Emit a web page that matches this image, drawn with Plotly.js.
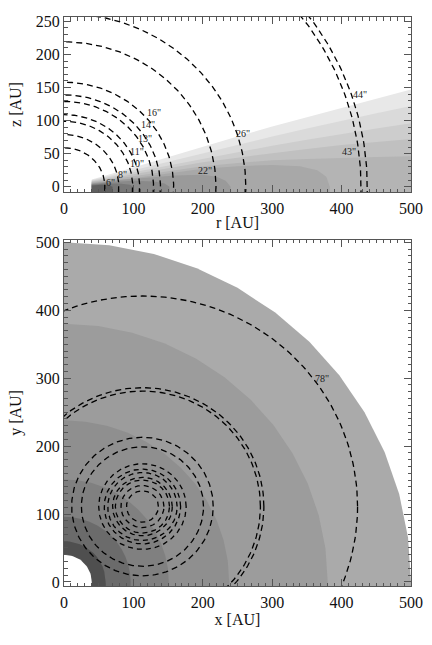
<!DOCTYPE html>
<html>
<head>
<meta charset="utf-8">
<script src="https://cdn.plot.ly/plotly-3.0.1.min.js"></script>
<style>
  html, body { margin: 0; padding: 0; background: #fff; }
  #target { width: 432px; height: 645px; }
</style>
</head>
<body>
<div id="target"></div>
<script>
(function() {
  // ---- top panel: r-z density contours (upper boundary of each filled level) ----
  var rOpen = [40, 100, 150, 200, 250, 300, 350, 400, 450, 500];
  var zLevel1 = [11, 29, 45, 60, 76, 91, 105, 120, 134, 147];
  var zLevel2 = [10, 25, 38, 51, 64, 76, 88, 100, 111, 122];
  var zLevel3 = [9, 22, 32, 43, 53, 62, 71, 80, 88, 96];
  var zLevel4 = [8, 19, 28, 37, 44, 51, 57, 63, 68, 72];
  var zLevel5 = [7, 16, 24, 31, 36, 40, 42, 44, 45, 46];
  var rLevel6 = [40, 100, 150, 200, 250, 300, 340, 365, 378, 383];
  var zLevel6 = [6, 13, 20, 27, 31, 33, 31, 25, 15, 0];
  var rLevel7 = [40, 80, 120, 160, 200, 220, 233, 240];
  var zLevel7 = [5, 10, 14, 17, 18, 15, 9, 0];
  var rLevel8 = [40, 70, 100, 130, 145, 152];
  var zLevel8 = [4, 7, 9, 8, 5, 0];
  var rLevel9 = [40, 60, 80, 95, 100];
  var zLevel9 = [3, 5, 5, 3, 0];
  var rLevel10 = [40, 55, 65, 70];
  var zLevel10 = [2, 3, 2, 0];
  var topGreys = ['#e8e8e8', '#dadada', '#cdcdcd', '#c0c0c0', '#b4b4b4',
                  '#a8a8a8', '#9a9a9a', '#8a8a8a', '#777777', '#5f5f5f'];

  // dashed arcs of constant angular separation (radius in AU) and their labels
  var arcRadius = [59, 79, 99, 109, 129, 139, 158, 219, 262, 428, 437];
  var arcLabels = ['6"', '8"', '10"', '11"', '13"', '14"', '16"', '22"', '26"', '43"', '44"'];
  var labelR = [67, 84, 105, 105, 117, 121, 129, 203, 258, 410, 427];
  var labelZ = [6, 18, 35, 53, 73, 94, 112, 25, 81, 53, 139];

  // ---- bottom panel: face-on x-y ----
  var ringRadius = [500, 380, 238, 151, 96, 60];
  var ringGreys = ['#aaaaaa', '#9c9c9c', '#8f8f8f', '#808080', '#6b6b6b', '#4f4f4f'];
  var holeRadius = 40;
  var circleCenter = [113, 111];
  var circleRadius = [23, 31, 39, 43, 50, 55, 63, 88, 102, 170, 175, 310];
  var bottomLabel = '78"';
  var bottomLabelXY = [372, 299];

  var traces = [];
  var serif = 'Liberation Serif';

  function openLevel(r, z, color) {
    var xs = [r[0]].concat(r, [r[r.length - 1]]);
    var ys = [-20].concat(z, [-20]);
    traces.push({x: xs, y: ys, xaxis: 'x', yaxis: 'y', type: 'scatter', mode: 'lines',
      fill: 'toself', fillcolor: color, line: {width: 0}, hoverinfo: 'skip', showlegend: false});
  }
  openLevel(rOpen, zLevel1, topGreys[0]);
  openLevel(rOpen, zLevel2, topGreys[1]);
  openLevel(rOpen, zLevel3, topGreys[2]);
  openLevel(rOpen, zLevel4, topGreys[3]);
  openLevel(rOpen, zLevel5, topGreys[4]);
  openLevel(rLevel6, zLevel6, topGreys[5]);
  openLevel(rLevel7, zLevel7, topGreys[6]);
  openLevel(rLevel8, zLevel8, topGreys[7]);
  openLevel(rLevel9, zLevel9, topGreys[8]);
  openLevel(rLevel10, zLevel10, topGreys[9]);

  function circle(cx, cy, R, a0, a1, n) {
    var xs = [], ys = [];
    for (var i = 0; i <= n; i++) {
      var a = (a0 + (a1 - a0) * i / n) * Math.PI / 180;
      xs.push(cx + R * Math.cos(a));
      ys.push(cy + R * Math.sin(a));
    }
    return {x: xs, y: ys};
  }

  arcRadius.forEach(function(R) {
    var c = circle(0, 0, R, -6, 96, 120);
    traces.push({x: c.x, y: c.y, xaxis: 'x', yaxis: 'y', type: 'scatter', mode: 'lines',
      line: {color: '#000', width: 1.3, dash: '6px,4px'}, hoverinfo: 'skip', showlegend: false});
  });

  // bottom rings as 12-sided polygons
  ringRadius.forEach(function(R, k) {
    var c = circle(0, 0, R, 0, 90, 12);
    var xs = [0, R].concat(c.x, [0]);
    var ys = [-20, -20].concat(c.y, [-20]);
    traces.push({x: xs, y: ys, xaxis: 'x2', yaxis: 'y2', type: 'scatter', mode: 'lines',
      fill: 'toself', fillcolor: ringGreys[k], line: {width: 0}, hoverinfo: 'skip', showlegend: false});
  });
  var hole = circle(0, 0, holeRadius, 0, 90, 24);
  traces.push({x: [0, holeRadius].concat(hole.x, [0]), y: [-20, -20].concat(hole.y, [-20]),
    xaxis: 'x2', yaxis: 'y2', type: 'scatter', mode: 'lines',
    fill: 'toself', fillcolor: '#ffffff', line: {width: 0}, hoverinfo: 'skip', showlegend: false});

  circleRadius.forEach(function(R) {
    var c = circle(circleCenter[0], circleCenter[1], R, 0, 360, 240);
    traces.push({x: c.x, y: c.y, xaxis: 'x2', yaxis: 'y2', type: 'scatter', mode: 'lines',
      line: {color: '#000', width: 1.3, dash: R < 70 ? '5px,4px' : '6px,4px'},
      hoverinfo: 'skip', showlegend: false});
  });

  var annotations = arcLabels.map(function(t, i) {
    return {x: labelR[i], y: labelZ[i], xref: 'x', yref: 'y', text: t, showarrow: false,
      font: {family: serif, size: 10, color: '#222'}};
  });
  annotations.push({x: bottomLabelXY[0], y: bottomLabelXY[1], xref: 'x2', yref: 'y2',
    text: bottomLabel, showarrow: false, font: {family: serif, size: 10, color: '#222'}});

  function axis(extra) {
    var a = {
      ticks: 'inside', ticklen: 7, tickcolor: '#555', tickwidth: 1,
      minor: {ticks: 'inside', ticklen: 3.5, tickcolor: '#555', dtick: 10},
      showline: true, linecolor: '#555', linewidth: 1, mirror: 'ticks',
      showgrid: false, zeroline: false, fixedrange: true,
      tickfont: {family: serif, size: 16, color: '#111'}
    };
    for (var k in extra) a[k] = extra[k];
    return a;
  }

  var layout = {
    width: 432, height: 645,
    margin: {l: 64, r: 21, t: 17, b: 59},
    paper_bgcolor: '#fff', plot_bgcolor: '#fff',
    font: {family: serif, color: '#111'},
    xaxis: axis({domain: [0, 1], range: [0, 500], dtick: 100, anchor: 'y', ticklabelstandoff: 2,
      title: {text: 'r [AU]', font: {family: serif, size: 16}, standoff: 0}}),
    yaxis: axis({domain: [0.6924, 1], range: [-8, 256.6], dtick: 50, anchor: 'x',
      title: {text: 'z [AU]', font: {family: serif, size: 16}, standoff: 10}}),
    xaxis2: axis({domain: [0, 1], range: [0, 500], dtick: 100, anchor: 'y2', ticklabelstandoff: 2,
      title: {text: 'x [AU]', font: {family: serif, size: 16}, standoff: 0}}),
    yaxis2: axis({domain: [0, 0.6081], range: [-6, 503.5], dtick: 100, anchor: 'x2',
      title: {text: 'y [AU]', font: {family: serif, size: 16}, standoff: 10}}),
    annotations: annotations,
    showlegend: false
  };

  Plotly.newPlot('target', traces, layout, {displayModeBar: false, staticPlot: true});
})();
</script>
</body>
</html>
